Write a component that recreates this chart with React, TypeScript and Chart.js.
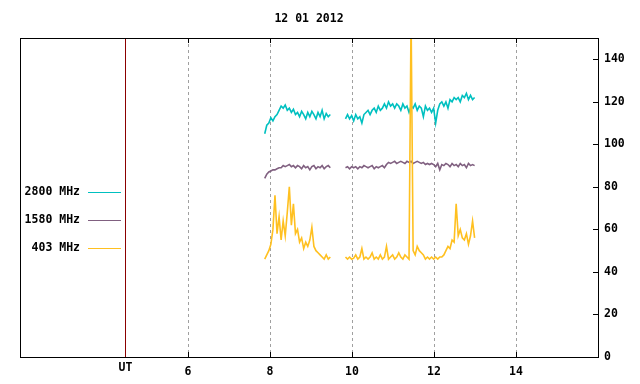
import { useEffect, useRef } from 'react';
import { Chart, registerables } from 'chart.js';

Chart.register(...registerables);

const TITLE = '12 01 2012';
const X_TICKS = [6, 8, 10, 12, 14];
const Y_TICKS = [0, 20, 40, 60, 80, 100, 120, 140];
const X_MIN = 1.9;
const X_MAX = 16;
const Y_MIN = 0;
const Y_MAX = 150;
const UT_POS = 4.46;
const UT_LABEL = 'UT';
const SERIES_NAMES = ['2800 MHz', '1580 MHz', '403 MHz'];
const SERIES_COLORS = ['#00c0c0', '#806080', '#ffc020'];

// sampling of the two observing segments (hours UT)
const SEG1_START = 7.87;
const SEG2_START = 9.84;
const STEP = 0.05;

const teal1 = [105, 109, 110, 112.5, 111, 113, 114, 116, 118, 117, 118.5, 116, 117, 115, 116.5, 114, 115, 113, 115.5, 114, 112, 115, 113, 115.5, 114, 112, 115, 113, 116, 112, 114.5, 113, 114];
const teal2 = [112, 114, 112, 113.5, 111, 114, 112, 113, 110, 114, 115, 116, 114, 116, 117, 115, 118, 116, 117, 119, 117, 120, 118, 119, 117, 119, 118, 116, 119, 117, 118, 115, 118, 117, 119, 116, 118, 117, 113, 118, 116, 117, 115, 117, 110, 116, 119, 120, 118, 120, 117, 121, 120, 122, 121, 122, 120, 123, 122, 124, 121, 123, 121, 122];

const purple1 = [84, 86, 87, 87.5, 88, 88, 88.5, 89, 89, 90, 89.5, 90, 90.5, 89.5, 90, 89, 90, 89.5, 88.5, 90, 89, 89.5, 88, 89.5, 90, 88.5, 89.5, 89, 90, 88.5, 89.5, 90, 89];
const purple2 = [89, 89.5, 88.5, 89.5, 89, 89.5, 88.5, 89.5, 89, 90, 89.5, 89, 89.5, 90, 88.5, 89.5, 89, 89.5, 90, 89, 90.5, 91.5, 91, 91.5, 92, 91, 91.5, 92, 91.5, 91, 92, 91.5, 92, 91, 91.5, 92, 91.5, 91, 91.5, 90.5, 91, 90.5, 91, 90.5, 89.5, 91, 88, 90.5, 90, 91, 90.5, 89.5, 91, 90, 90.5, 89.5, 91, 90, 90.5, 89, 91, 90, 90.5, 90];

const orange1 = [46, 48, 50, 53, 60, 76, 58, 66, 55, 64, 57, 68, 80, 62, 72, 58, 60, 54, 56, 51, 54, 52, 55, 61, 52, 50, 49, 48, 47, 46, 48, 46, 47];
const orange2 = [47, 46, 47, 46, 46.5, 48, 46, 47, 51, 46, 47, 46, 47, 49, 46, 47, 46, 48, 46, 47, 52, 46, 47, 48, 46, 47, 49, 47, 46, 48, 47, 46, 160, 50, 48, 52, 50, 49, 48, 46, 47, 46, 47, 46, 47, 46, 47, 47, 48, 50, 52, 51, 55, 54, 72, 57, 60, 56, 55, 58, 53, 57, 64, 56];

const FONT = 'bold 11.5px "DejaVu Sans Mono", "Liberation Mono", monospace';

function buildSeries(seg1: number[], seg2: number[]) {
  const pts: { x: number; y: number | null }[] = seg1.map((y, i) => ({ x: SEG1_START + i * STEP, y }));
  pts.push({ x: (SEG1_START + seg1.length * STEP + SEG2_START) / 2, y: null });
  seg2.forEach((y, i) => pts.push({ x: SEG2_START + i * STEP, y }));
  return pts;
}

const decorPlugin = {
  id: 'decor',
  afterDraw(chart: any) {
    const { ctx, chartArea, scales } = chart;
    const { left, right, top, bottom } = chartArea;
    const xs = scales.x;
    const ys = scales.y;
    ctx.save();
    ctx.lineWidth = 1;

    // UT line
    const ux = Math.round(xs.getPixelForValue(UT_POS)) + 0.5;
    ctx.strokeStyle = '#8b0000';
    ctx.beginPath();
    ctx.moveTo(ux, top);
    ctx.lineTo(ux, bottom);
    ctx.stroke();

    // frame
    ctx.strokeStyle = '#000';
    ctx.strokeRect(Math.round(left) + 0.5, Math.round(top) + 0.5, Math.round(right - left), Math.round(bottom - top));

    // inward ticks
    ctx.beginPath();
    X_TICKS.forEach((v) => {
      const px = Math.round(xs.getPixelForValue(v)) + 0.5;
      ctx.moveTo(px, bottom);
      ctx.lineTo(px, bottom - 5);
      ctx.moveTo(px, top);
      ctx.lineTo(px, top + 5);
    });
    Y_TICKS.forEach((v) => {
      const py = Math.round(ys.getPixelForValue(v)) + 0.5;
      ctx.moveTo(right, py);
      ctx.lineTo(right - 5, py);
    });
    ctx.stroke();

    // texts
    ctx.font = FONT;
    ctx.fillStyle = '#000';
    ctx.textBaseline = 'middle';
    ctx.textAlign = 'center';
    ctx.fillText(TITLE, (left + right) / 2, 19);
    ctx.fillText(UT_LABEL, ux, 368);

    // legend
    SERIES_NAMES.forEach((name, i) => {
      const ly = 192 + 28 * i;
      ctx.textAlign = 'right';
      ctx.fillStyle = '#000';
      ctx.fillText(name, 80, ly);
      ctx.strokeStyle = SERIES_COLORS[i];
      ctx.beginPath();
      ctx.moveTo(88, ly + 0.5);
      ctx.lineTo(121, ly + 0.5);
      ctx.stroke();
    });
    ctx.restore();
  },
};

export default function App() {
  const canvasRef = useRef<HTMLCanvasElement | null>(null);

  useEffect(() => {
    const canvas = canvasRef.current;
    if (!canvas) return;
    const chart = new Chart(canvas, {
      type: 'line',
      data: {
        datasets: [
          { label: SERIES_NAMES[2], data: buildSeries(orange1, orange2), borderColor: SERIES_COLORS[2] },
          { label: SERIES_NAMES[1], data: buildSeries(purple1, purple2), borderColor: SERIES_COLORS[1] },
          { label: SERIES_NAMES[0], data: buildSeries(teal1, teal2), borderColor: SERIES_COLORS[0] },
        ] as any,
      },
      options: {
        responsive: false,
        animation: false,
        devicePixelRatio: 1,
        events: [],
        spanGaps: false,
        layout: { padding: { left: 20, top: 38, right: 0, bottom: 0 } },
        elements: {
          point: { radius: 0 },
          line: { borderWidth: 1.6, tension: 0, borderJoinStyle: 'miter' },
        },
        plugins: {
          legend: { display: false },
          tooltip: { enabled: false },
          title: { display: false },
        },
        scales: {
          x: {
            type: 'linear',
            position: 'bottom',
            min: X_MIN,
            max: X_MAX,
            afterBuildTicks: (s: any) => {
              s.ticks = X_TICKS.map((v) => ({ value: v }));
            },
            afterFit: (s: any) => {
              s.height = 27;
            },
            ticks: {
              autoSkip: false,
              maxRotation: 0,
              padding: 8,
              color: '#000',
              font: { family: '"DejaVu Sans Mono", "Liberation Mono", monospace', size: 11.5, weight: 'bold' },
              callback: (v: any) => String(v),
            },
            grid: { color: '#a0a0a0', lineWidth: 1, drawTicks: false },
            border: { display: false, dash: [3, 3] },
          },
          y: {
            type: 'linear',
            position: 'right',
            min: Y_MIN,
            max: Y_MAX,
            afterBuildTicks: (s: any) => {
              s.ticks = Y_TICKS.map((v) => ({ value: v }));
            },
            afterFit: (s: any) => {
              s.width = 42;
            },
            ticks: {
              padding: 6,
              color: '#000',
              font: { family: '"DejaVu Sans Mono", "Liberation Mono", monospace', size: 11.5, weight: 'bold' },
              callback: (v: any) => String(v),
            },
            grid: { display: false, drawTicks: false },
            border: { display: false },
          },
        },
      } as any,
      plugins: [decorPlugin],
    });
    return () => chart.destroy();
  }, []);

  return (
    <div style={{ position: 'fixed', left: 0, top: 0, width: 640, height: 384, background: '#fff' }}>
      <canvas ref={canvasRef} width={640} height={384} style={{ display: 'block' }} />
    </div>
  );
}
